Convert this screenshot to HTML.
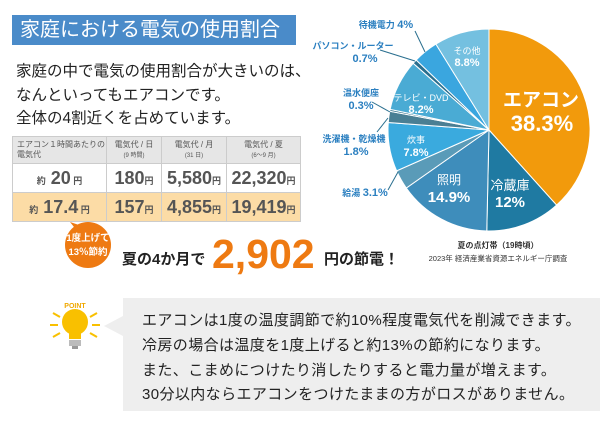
<!DOCTYPE html>
<html><head><meta charset="utf-8"><style>
body{margin:0;width:600px;height:424px;background:#fff;position:relative;overflow:hidden;font-family:"Liberation Sans","Noto Sans CJK JP",sans-serif;color:#333}
.a{position:absolute;white-space:nowrap}
.title{left:12px;top:15px;width:284px;height:30px;background:#4a8bc9;color:#fff;font-size:20px;line-height:30px;padding-left:8px;box-sizing:border-box}
.intro{left:16px;top:60px;font-size:15.5px;line-height:23.5px;color:#222}
table{position:absolute;left:12px;top:136px;border-collapse:collapse;font-weight:bold;color:#555}
td{border:1px solid #ccc;text-align:center;padding:0;white-space:nowrap}
.h td{background:#e6e6e6;height:26px;font-size:8px;font-weight:normal;line-height:10px}
.r1 td{background:#fff;height:28px;font-size:18px}
.r2 td{background:#fcdca6;height:28px;font-size:18px}
small{font-size:9px}
</style></head><body>
<div class="a title">家庭における電気の使用割合</div>
<div class="a intro">家庭の中で電気の使用割合が大きいのは、<br>なんといってもエアコンです。<br>全体の4割近くを占めています。</div>
<table>
<tr class="h"><td style="width:94px;text-align:left;padding-left:4px;box-sizing:border-box">エアコン１時間あたりの<br>電気代</td><td style="width:54px">電気代 / 日<br><small style="font-size:6px">(9 時間)</small></td><td style="width:64px">電気代 / 月<br><small style="font-size:6px">(31 日)</small></td><td style="width:73px">電気代 / 夏<br><small style="font-size:6px">(6～9 月)</small></td></tr>
<tr class="r1"><td><small>約</small> 20<small> 円</small></td><td>180<small>円</small></td><td>5,580<small>円</small></td><td>22,320<small>円</small></td></tr>
<tr class="r2"><td><small>約</small> 17.4<small> 円</small></td><td>157<small>円</small></td><td>4,855<small>円</small></td><td>19,419<small>円</small></td></tr>
</table>
<svg class="a" style="left:0;top:0" width="600" height="424">
<polygon points="70,222 78,232 88,228" fill="#ee7a12"/>
<circle cx="88" cy="245" r="23" fill="#ee7a12"/>
<text x="88" y="241" fill="#fff" font-size="9.5" text-anchor="middle" font-weight="bold">1度上げて</text>
<text x="88" y="255" fill="#fff" font-size="9.5" text-anchor="middle" font-weight="bold">13％節約</text>
<g id="pie"></g>
<g stroke="#2a6f8f" stroke-width="1" fill="none">
<line x1="425" y1="52" x2="415" y2="31"/><line x1="415" y1="61" x2="380" y2="50"/>
<line x1="390" y1="112" x2="372" y2="102"/><line x1="388" y1="118" x2="377" y2="132"/>
<line x1="398" y1="172" x2="388" y2="190"/></g>
<g fill="#2a7fc0" font-size="9" font-weight="bold" text-anchor="middle">
<text x="386" y="28">待機電力 <tspan font-size="11">4%</tspan></text>
<text x="353" y="49">パソコン・ルーター</text><text x="365" y="62" font-size="11">0.7%</text>
<text x="361" y="96">温水便座</text><text x="361" y="109" font-size="11">0.3%</text>
<text x="354" y="142">洗濯機・乾燥機</text><text x="356" y="155" font-size="11">1.8%</text>
<text x="365" y="196">給湯 <tspan font-size="11">3.1%</tspan></text></g>
<g fill="#fff" text-anchor="middle">
<text x="467" y="54" font-size="9">その他</text><text x="467" y="66" font-size="11" font-weight="bold">8.8%</text>
<text x="421" y="101" font-size="9">テレビ・DVD</text><text x="421" y="113" font-size="11" font-weight="bold">8.2%</text>
<text x="416" y="143" font-size="9">炊事</text><text x="416" y="156" font-size="11" font-weight="bold">7.8%</text>
<text x="449" y="184" font-size="12">照明</text><text x="449" y="202" font-size="15" font-weight="bold">14.9%</text>
<text x="510" y="190" font-size="13">冷蔵庫</text><text x="510" y="207" font-size="15" font-weight="bold">12%</text>
<text x="541" y="106" font-size="19" font-weight="bold">エアコン</text><text x="542" y="131" font-size="22" font-weight="bold">38.3%</text></g>
<text x="498" y="248" font-size="8" font-weight="bold" text-anchor="middle" fill="#333">夏の点灯帯（19時頃）</text>
<text x="498" y="261" font-size="7.5" text-anchor="middle" fill="#333">2023年 経済産業省資源エネルギー庁調査</text>
<text x="122" y="264" font-size="15" font-weight="bold" fill="#222">夏の4か月で</text>
<text x="212" y="268" font-size="41" font-weight="bold" fill="#ee7a12">2,902</text>
<text x="324" y="264" font-size="15" font-weight="bold" fill="#222">円の節電！</text>
<rect x="123" y="298" width="477" height="113" fill="#eeeeee"/>
<polygon points="104,326 123,316 123,336" fill="#eeeeee"/>
<g stroke="#f9c000" stroke-width="2"><line x1="53" y1="313" x2="60" y2="317"/><line x1="50" y1="325" x2="58" y2="325"/><line x1="53" y1="337" x2="60" y2="333"/><line x1="97" y1="313" x2="90" y2="317"/><line x1="100" y1="325" x2="92" y2="325"/><line x1="97" y1="337" x2="90" y2="333"/></g>
<circle cx="75" cy="322" r="13" fill="#f9c000"/><rect x="69" y="331" width="12" height="8" fill="#f9c000"/>
<rect x="69" y="340" width="12" height="6" fill="#bbb"/><rect x="72" y="346" width="6" height="3" fill="#999"/>
<text x="75" y="308" font-size="7" font-weight="bold" fill="#f0a800" text-anchor="middle">POINT</text>
<g font-size="15" fill="#222" letter-spacing="0.4"><text x="142" y="325">エアコンは1度の温度調節で約10%程度電気代を削減できます。</text>
<text x="142" y="350">冷房の場合は温度を1度上げると約13%の節約になります。</text>
<text x="142" y="375">また、こまめにつけたり消したりすると電力量が増えます。</text>
<text x="142" y="399">30分以内ならエアコンをつけたままの方がロスがありません。</text></g>
</svg>
<script>
var d=[[38.3,"#f29a0c"],[12,"#1f7aa2"],[14.9,"#3e8dbb"],[3.1,"#5a9bb8"],[7.8,"#3aaade"],[1.8,"#4a7f94"],[0.3,"#2f6f8a"],[8.2,"#4aabd4"],[0.7,"#2a6f8f"],[4,"#3aa6df"],[8.8,"#74c0e0"]];
var cx=489,cy=130,r=101,a=0,s="",t=99.9;
d.forEach(function(e){var a2=a+e[0]/t*2*Math.PI;
var x1=cx+r*Math.sin(a),y1=cy-r*Math.cos(a),x2=cx+r*Math.sin(a2),y2=cy-r*Math.cos(a2);
s+='<path d="M'+cx+','+cy+'L'+x1+','+y1+'A'+r+','+r+' 0 '+(a2-a>Math.PI?1:0)+' 1 '+x2+','+y2+'Z" fill="'+e[1]+'" stroke="#fff" stroke-width="1"/>';a=a2;});
document.getElementById("pie").innerHTML=s;
</script>
</body></html>
